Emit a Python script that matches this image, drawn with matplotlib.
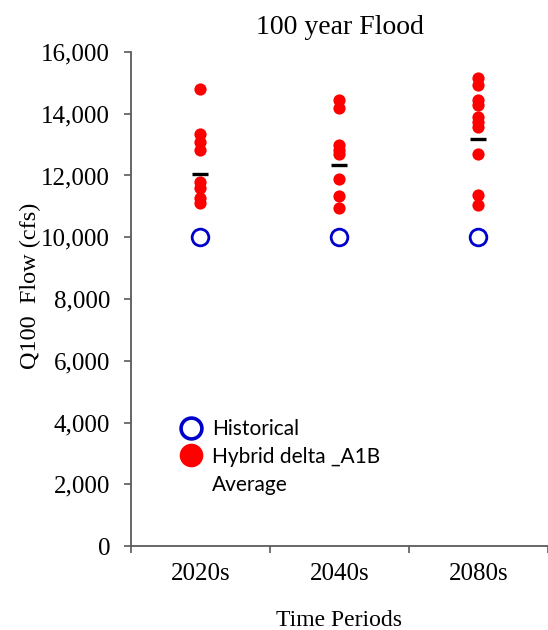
import matplotlib.pyplot as plt
from matplotlib.lines import Line2D

periods = ["2020s", "2040s", "2080s"]
flow_ticks = [0, 2000, 4000, 6000, 8000, 10000, 12000, 14000, 16000]
flow_tick_labels = ["0", "2,000", "4,000", "6,000", "8,000", "10,000", "12,000", "14,000", "16,000"]
historical = [10020, 10020, 10020]
hybrid_2020s = [14800, 13330, 13100, 12830, 11800, 11580, 11260, 11100]
hybrid_2040s = [14440, 14180, 12990, 12830, 12700, 11880, 11350, 10940]
hybrid_2080s = [15150, 14930, 14440, 14280, 13900, 13740, 13580, 12700, 11370, 11050]
averages = [12040, 12340, 13170]

hybrid = [hybrid_2020s, hybrid_2040s, hybrid_2080s]

serif = 'Liberation Serif'
plt.rcParams['font.family'] = [serif, 'DejaVu Serif']

fig = plt.figure(figsize=(5.48, 6.3), dpi=100)
ax = fig.add_axes([0.239, 0.1333, 0.761, 0.7842])

# Hybrid delta points, one column per period
for i, vals in enumerate(hybrid):
    ax.plot([i] * len(vals), vals, 'o', color='#ff0000', ms=8.8, mec='none', zorder=3)

ax.plot(range(len(periods)), historical, 'o', mfc='none', mec='#0000cc', ms=12, mew=2.0, zorder=3)
ax.plot(range(len(periods)), averages, '_', color='black', ms=12, mew=2.4, zorder=4)

ax.set_xlim(-0.5, 2.5)
ax.set_ylim(0, 16000)
ax.set_yticks(flow_ticks)
ax.set_yticklabels(flow_tick_labels, fontfamily=serif)
ax.set_xticks(range(len(periods)))
ax.set_xticklabels(periods, fontfamily=serif)
ax.set_xticks([-0.5, 0.5, 1.5, 2.5], minor=True)

axis_col = '#5a5a5a'
for side in ['top', 'right']:
    ax.spines[side].set_visible(False)
for side in ['left', 'bottom']:
    ax.spines[side].set_color(axis_col)
    ax.spines[side].set_linewidth(1.3)

ax.tick_params(axis='y', direction='out', length=5, width=1.2, color=axis_col, labelsize=18, pad=10)
ax.tick_params(axis='x', which='major', length=0, labelsize=18, pad=12)
ax.tick_params(axis='x', which='minor', direction='out', length=5, width=1.2, color=axis_col)

ax.set_title("100 year Flood", fontsize=20, pad=13, fontfamily=serif)
ax.set_xlabel("Time Periods", fontsize=17, labelpad=18, fontfamily=serif)
ax.set_ylabel("Q100  Flow (cfs)", fontsize=17.5, fontfamily=serif)
ax.yaxis.set_label_coords(-0.215, 0.526)

handles = [
    Line2D([], [], ls='none', marker='o', mfc='none', mec='#0000cc', ms=15, mew=2.6),
    Line2D([], [], ls='none', marker='o', color='#ff0000', ms=17, mec='none'),
    Line2D([], [], ls='none'),
]
ax.legend(handles, ["Historical", "Hybrid delta _A1B", "Average"], loc='lower left',
          bbox_to_anchor=(0.07, 0.066), frameon=False, prop={'family': 'Lato', 'size': 15},
          handletextpad=0.4, labelspacing=0.38, handlelength=1.2)

fig.savefig("out.png", dpi=100)
